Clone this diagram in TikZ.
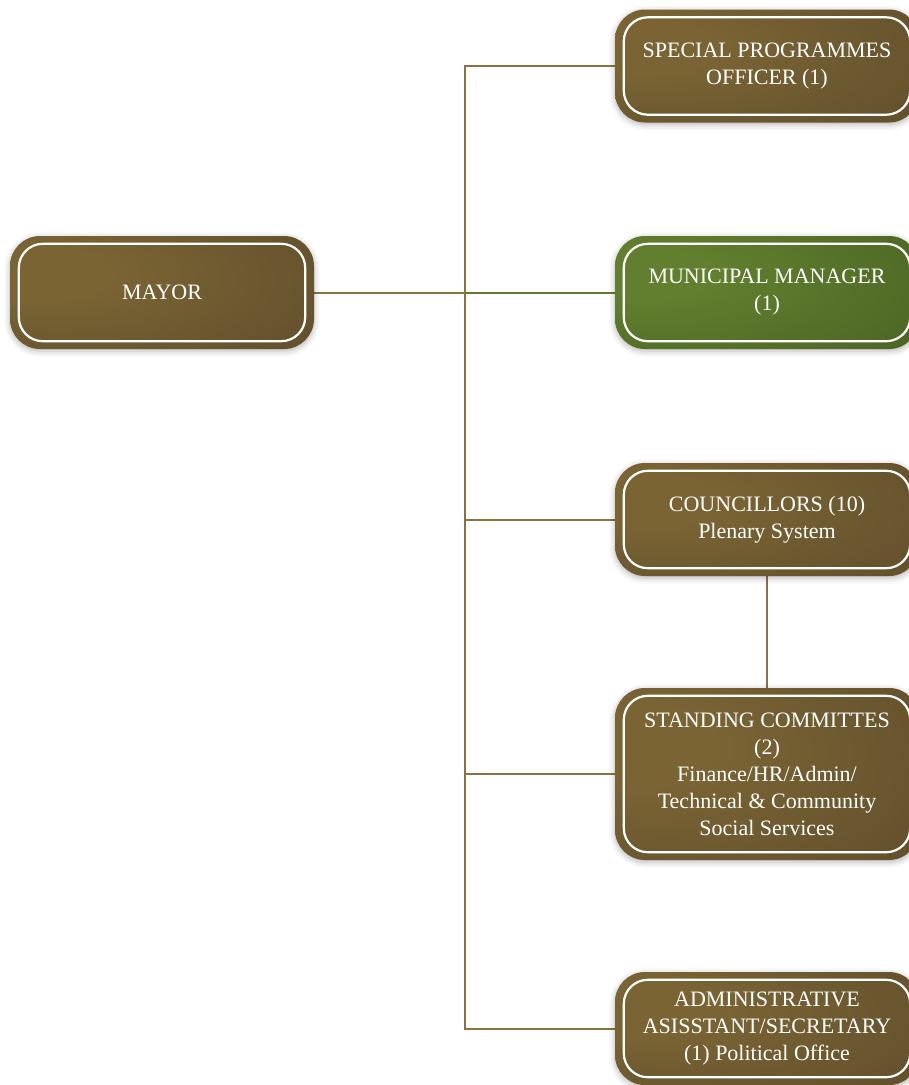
\documentclass[tikz,border=0pt]{standalone}
\usepackage{fontspec}
\setmainfont{Liberation Serif}
\usetikzlibrary{backgrounds,shadows.blur}
\definecolor{brLight}{HTML}{7A6434}
\definecolor{brDark}{HTML}{4E3F26}
\definecolor{grLight}{HTML}{617F2E}
\definecolor{grDark}{HTML}{38501B}
\definecolor{brLine}{HTML}{8A7242}
\definecolor{grLine}{HTML}{5F7D2E}
\pgfdeclareradialshading{brownglow}{\pgfpoint{-25bp}{10bp}}{color(0bp)=(brLight); color(12bp)=(brLight); color(72bp)=(brDark)}
\pgfdeclareradialshading{greenglow}{\pgfpoint{-25bp}{10bp}}{color(0bp)=(grLight); color(12bp)=(grLight); color(72bp)=(grDark)}
\tikzset{
  post/.style={rectangle, rounded corners=30, minimum width=304, minimum height=113,
    shading=brownglow, text=white, align=center,
    font=\fontsize{22}{27}\selectfont,
    blur shadow={shadow xshift=0pt, shadow yshift=-2pt, shadow blur radius=6pt, shadow opacity=30}},
  greenpost/.style={post, shading=greenglow},
  link/.style={brLine, line width=2},
}
\begin{document}
\begin{tikzpicture}[x=1pt, y=-1pt]
            \clip (0,0) rectangle (909,1085);
            \node[post] (mayor) at (162, 292.5) {MAYOR};
            \node[post] (spo) at (767, 66) {SPECIAL PROGRAMMES\\OFFICER (1)};
            \node[greenpost] (mm) at (767, 292.5) {MUNICIPAL MANAGER\\(1)};
            \node[post] (coun) at (767, 519.5) {COUNCILLORS (10)\\Plenary System};
            \node[post, minimum height=172] (stand) at (767, 774) {STANDING COMMITTES\\(2)\\Finance/HR/Admin/\\Technical \& Community\\Social Services};
            \node[post] (admin) at (767, 1028.5) {ADMINISTRATIVE\\ASISSTANT/SECRETARY\\(1) Political Office};
            % white inner rims
            \foreach \n in {mayor, spo, mm, coun, stand, admin}
              \draw[white, line width=2.2, rounded corners=24]
                ([shift={(9,8)}]\n.north west) rectangle ([shift={(-9,-8)}]\n.south east);
            % connectors
            \begin{scope}[on background layer]
            \coordinate (ttop) at (465, 66);
            \coordinate (tbot) at (465, 1028.5);
            \draw[link] (spo.west) -- (ttop) -- (tbot) -- (admin.west);
            \draw[link] (mayor.east) -- (mayor.east -| ttop);
            \draw[link, grLine] (mayor.east -| ttop) -- (mm.west);
            \draw[link] (coun.west) -- (coun.west -| ttop);
            \draw[link] (stand.west) -- (stand.west -| ttop);
            \draw[link] (coun.south) -- (stand.north);
            \end{scope}
\end{tikzpicture}
\end{document}
